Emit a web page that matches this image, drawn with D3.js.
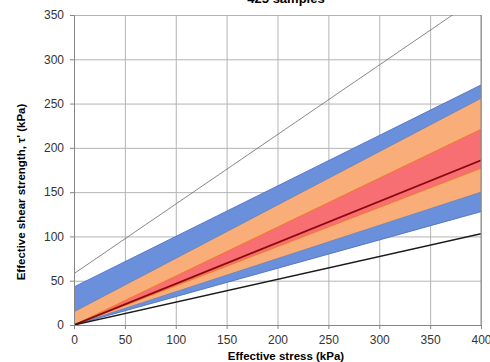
<!DOCTYPE html>
<html>
<head>
<meta charset="utf-8">
<script src="https://cdn.jsdelivr.net/npm/d3@7"></script>
<style>
  body { margin: 0; background: #fff; }
  svg { font-family: "Liberation Sans", Arial, sans-serif; }
</style>
</head>
<body>
<svg width="490" height="362"></svg>
<script>
// effective stress points (kPa) at which each envelope is given
var stress = [0, 400];

// shear strength envelopes (kPa)
var upperLine   = [58, 372];
var blueUpper   = [43, 271];
var orangeUpper = [15, 256];
var redUpper    = [0, 221];
var meanLine    = [0, 186];
var redLower    = [0, 177];
var orangeLower = [0, 150];
var blueLower   = [0, 128];
var lowerLine   = [0, 103];

var xTicks = [0, 50, 100, 150, 200, 250, 300, 350, 400];
var yTicks = [0, 50, 100, 150, 200, 250, 300, 350];

var svg = d3.select("svg");
var pLeft = 74, pRight = 481, pTop = 15, pBottom = 325;

var x = d3.scaleLinear().domain([0, 400]).range([pLeft, pRight]);
var y = d3.scaleLinear().domain([0, 350]).range([pBottom, pTop]);

svg.append("defs").append("clipPath")
    .attr("id", "plot")
  .append("rect")
    .attr("x", pLeft).attr("y", pTop)
    .attr("width", pRight - pLeft).attr("height", pBottom - pTop);

// gridlines
svg.append("g")
    .attr("transform", "translate(0," + pBottom + ")")
    .call(d3.axisBottom(x).tickValues(xTicks).tickSize(-(pBottom - pTop)).tickFormat(""))
    .call(function(g) { g.select(".domain").remove(); })
    .selectAll("line").attr("stroke", "#b4b4b4");

svg.append("g")
    .attr("transform", "translate(" + pLeft + ",0)")
    .call(d3.axisLeft(y).tickValues(yTicks).tickSize(-(pRight - pLeft)).tickFormat(""))
    .call(function(g) { g.select(".domain").remove(); })
    .selectAll("line").attr("stroke", "#b4b4b4");

function rows(a, b) {
  return stress.map(function(s, i) { return {s: s, hi: a[i], lo: b[i]}; });
}

var area = d3.area()
    .x(function(d) { return x(d.s); })
    .y0(function(d) { return y(d.lo); })
    .y1(function(d) { return y(d.hi); });

var line = d3.line()
    .x(function(d) { return x(d.s); })
    .y(function(d) { return y(d.v); });

function pts(a) {
  return stress.map(function(s, i) { return {s: s, v: a[i]}; });
}

var plot = svg.append("g").attr("clip-path", "url(#plot)");

var bands = [
  {hi: blueUpper,   lo: blueLower,   fill: "#6a8fdb", edge: "#4f72c4"},
  {hi: orangeUpper, lo: orangeLower, fill: "#f9ad78", edge: "#6f86b8"},
  {hi: redUpper,    lo: redLower,    fill: "#f76e73", edge: "#f07c1e"}
];

bands.forEach(function(b) {
  plot.append("path")
      .attr("d", area(rows(b.hi, b.lo)))
      .attr("fill", b.fill);
  [b.hi, b.lo].forEach(function(e) {
    plot.append("path")
        .attr("d", line(pts(e)))
        .attr("fill", "none")
        .attr("stroke", b.edge)
        .attr("stroke-width", 0.9);
  });
});

plot.append("path")
    .attr("d", line(pts(meanLine)))
    .attr("fill", "none")
    .attr("stroke", "#8b0a0a")
    .attr("stroke-width", 1.8);

plot.append("path")
    .attr("d", line(pts(upperLine)))
    .attr("fill", "none")
    .attr("stroke", "#6a6a6a")
    .attr("stroke-width", 0.8);

plot.append("path")
    .attr("d", line(pts(lowerLine)))
    .attr("fill", "none")
    .attr("stroke", "#1a1a1a")
    .attr("stroke-width", 1.4);

// axes
var xAxis = svg.append("g")
    .attr("transform", "translate(0," + pBottom + ")")
    .call(d3.axisBottom(x).tickValues(xTicks).tickSize(4).tickPadding(6));
var yAxis = svg.append("g")
    .attr("transform", "translate(" + pLeft + ",0)")
    .call(d3.axisLeft(y).tickValues(yTicks).tickSize(4).tickPadding(6));

[xAxis, yAxis].forEach(function(g) {
  g.select(".domain").attr("stroke", "#868686");
  g.selectAll(".tick line").attr("stroke", "#868686");
  g.selectAll("text")
      .attr("fill", "#333")
      .style("font-size", "12px")
      .style("font-family", "'Liberation Sans', Arial, sans-serif");
});

// right border
svg.append("line")
    .attr("x1", pRight).attr("x2", pRight)
    .attr("y1", pTop).attr("y2", pBottom)
    .attr("stroke", "#868686");

// titles
svg.append("text")
    .attr("x", 286).attr("y", 3)
    .attr("text-anchor", "middle")
    .style("font-weight", "bold")
    .style("font-size", "13px")
    .text("425 samples");

svg.append("text")
    .attr("x", 286).attr("y", 360)
    .attr("text-anchor", "middle")
    .style("font-weight", "bold")
    .style("font-size", "11.5px")
    .text("Effective stress (kPa)");

svg.append("text")
    .attr("transform", "translate(25,192) rotate(-90)")
    .attr("text-anchor", "middle")
    .style("font-weight", "bold")
    .style("font-size", "11.5px")
    .text("Effective shear strength, τ' (kPa)");
</script>
</body>
</html>
